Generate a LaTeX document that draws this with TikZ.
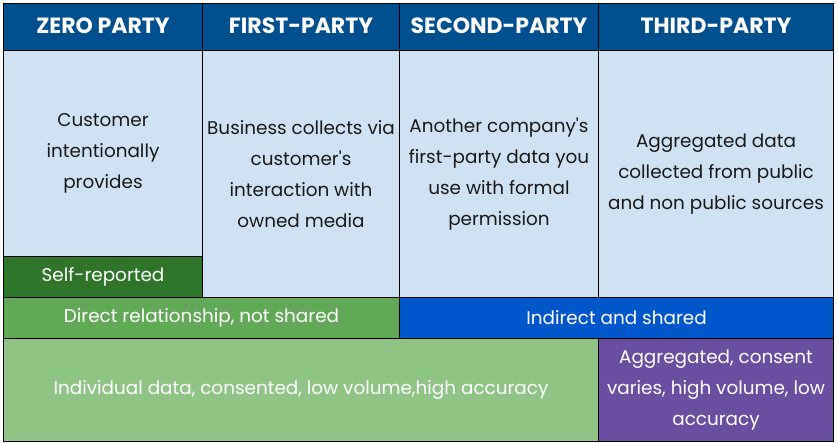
\documentclass[tikz,border=0pt]{standalone}
\usepackage{fontspec}
\setmainfont{Poppins}
\definecolor{hdr}{RGB}{0,80,143}
\definecolor{lblue}{RGB}{207,226,243}
\definecolor{dgreen}{RGB}{46,117,40}
\definecolor{mgreen}{RGB}{98,169,87}
\definecolor{lgreen}{RGB}{143,197,132}
\definecolor{iblue}{RGB}{0,87,204}
\definecolor{purp}{RGB}{106,78,160}
\definecolor{txt}{RGB}{25,25,25}
\tikzset{
  cell/.style={draw=black, line width=1pt, rectangle, inner sep=0pt, anchor=north west},
  hdrtext/.style={text=white, font=\fontsize{22}{26}\selectfont\bfseries},
  bodytext/.style={align=center, font=\fontsize{18.4}{31}\selectfont},
}
\newcommand{\cellbox}[6]{% name, x1, y1, x2, y2, fill
  \node[cell, fill=#6, minimum width={#4pt-#2pt}, minimum height={#5pt-#3pt}] (#1) at (#2,#3) {};
}
\newcommand{\apos}{\textquotesingle}
\begin{document}
\begin{tikzpicture}[x=1pt,y=-1pt]
\useasboundingbox (0,0) rectangle (838,443);
\fill[white] (0,0) rectangle (838,443);
% header
\cellbox{h1}{3}{3}{202}{50}{hdr}
\cellbox{h2}{202}{3}{399}{50}{hdr}
\cellbox{h3}{399}{3}{598}{50}{hdr}
\cellbox{h4}{598}{3}{833}{50}{hdr}
\node[hdrtext] (t1) at ([yshift=1.5pt]h1.center) {ZERO PARTY};
\node[hdrtext] (t2) at ([yshift=1.5pt]h2.center) {FIRST-PARTY};
\node[hdrtext] (t3) at ([yshift=1.5pt]h3.center) {SECOND-PARTY};
\node[hdrtext] (t4) at ([yshift=1.5pt]h4.center) {THIRD-PARTY};
% row 2
\cellbox{c1}{3}{50}{202}{256}{lblue}
\cellbox{sr}{3}{256}{202}{297}{dgreen}
\cellbox{c2}{202}{50}{399}{297}{lblue}
\cellbox{c3}{399}{50}{598}{297}{lblue}
\cellbox{c4}{598}{50}{833}{297}{lblue}
\node[bodytext, text=txt] (b1) at (c1.center) {Customer\\intentionally\\provides};
\node[bodytext, text=white] (bsr) at (sr.center) {Self-reported};
\node[bodytext, text=txt] (b2) at (c2.center) {Business collects via\\customer\apos s\\interaction with\\owned media};
\node[bodytext, text=txt] (b3) at (c3.center) {Another company\apos s\\first-party data you\\use with formal\\permission};
\node[bodytext, text=txt] (b4) at (c4.center) {Aggregated data\\collected from public\\and non public sources};
% row 3
\cellbox{d1}{3}{297}{399}{338}{mgreen}
\cellbox{d2}{399}{297}{833}{338}{iblue}
\node[bodytext, text=white] (e1) at (d1.center) {Direct relationship, not shared};
\node[bodytext, text=white] (e2) at (d2.center) {Indirect and shared};
% row 4
\cellbox{f1}{3}{338}{598}{441}{lgreen}
\cellbox{f2}{598}{338}{833}{441}{purp}
\node[bodytext, text=white] (g1) at (f1.center) {Individual data, consented, low volume,high accuracy};
\node[bodytext, text=white] (g2) at (f2.center) {Aggregated, consent\\varies, high volume, low\\accuracy};
\end{tikzpicture}
\end{document}
